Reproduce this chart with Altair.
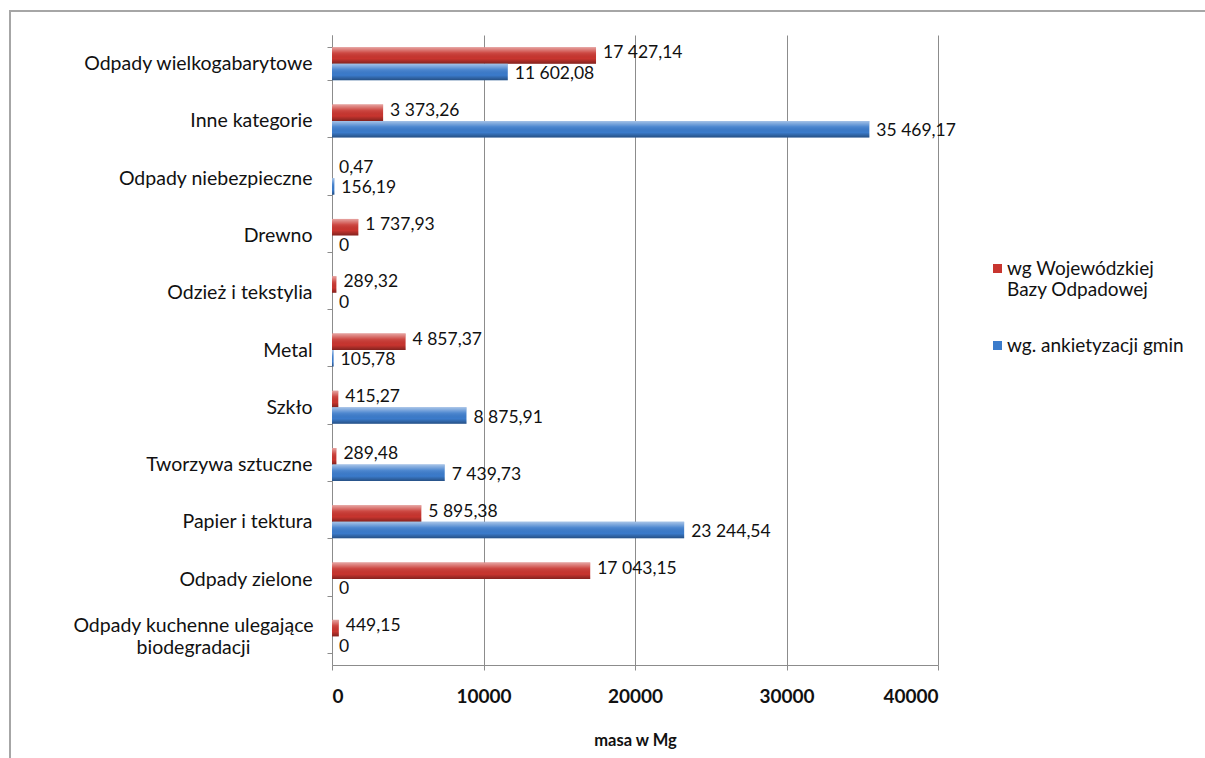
import altair as alt
import pandas as pd

# Waste categories, top to bottom
categories = [
    "Odpady wielkogabarytowe",
    "Inne kategorie",
    "Odpady niebezpieczne",
    "Drewno",
    "Odzież i tekstylia",
    "Metal",
    "Szkło",
    "Tworzywa sztuczne",
    "Papier i tektura",
    "Odpady zielone",
    "Odpady kuchenne ulegające biodegradacji",
]

series_names = ["wg Wojewódzkiej Bazy Odpadowej", "wg. ankietyzacji gmin"]

# Mass in Mg according to each source
wbo_values = [17427.14, 3373.26, 0.47, 1737.93, 289.32, 4857.37, 415.27, 289.48, 5895.38, 17043.15, 449.15]
gmin_values = [11602.08, 35469.17, 156.19, 0, 0, 105.78, 8875.91, 7439.73, 23244.54, 0, 0]

x_ticks = [0, 10000, 20000, 30000, 40000]
series_colors = ["#C8352F", "#3B7BCB"]


def pl_format(v):
    """Polish number format: space as thousands separator, comma as decimal mark."""
    if v == 0:
        return "0"
    return f"{v:,.2f}".replace(",", " ").replace(".", ",")


rows = []
for cat, a, b in zip(categories, wbo_values, gmin_values):
    rows.append({"kategoria": cat, "seria": series_names[0], "masa": a, "etykieta": pl_format(a)})
    rows.append({"kategoria": cat, "seria": series_names[1], "masa": b, "etykieta": pl_format(b)})
df = pd.DataFrame(rows)

FONT = "Lato"
long_cat = categories[-1]
is_long = f"datum.value == '{long_cat}'"

y_enc = alt.Y(
    "kategoria:N",
    sort=categories,
    title=None,
    scale=alt.Scale(paddingInner=0.424, paddingOuter=0.212),
    axis=alt.Axis(
        labelFont=FONT,
        labelFontSize=19.5,
        labelColor="#111111",
        labelLimit=400,
        tickBand="extent",
        tickSize=5,
        tickColor="#8c8c8c",
        domainColor="#8c8c8c",
        labelPadding={"condition": {"test": is_long, "value": 134}, "value": 15},
        labelAlign={"condition": {"test": is_long, "value": "center"}, "value": "right"},
        labelOffset={"condition": {"test": is_long, "value": -11}, "value": 0},
        labelExpr=f"{is_long} ? ['Odpady kuchenne ulegające', 'biodegradacji'] : datum.value",
        labelLineHeight=22,
    ),
)
x_enc = alt.X(
    "masa:Q",
    title="masa w Mg",
    scale=alt.Scale(domain=[0, 40000], nice=False),
    axis=alt.Axis(
        values=x_ticks,
        format="d",
        labelFont=FONT,
        labelFontSize=19,
        labelFontWeight="bold",
        labelColor="#111111",
        labelPadding=17,
        tickSize=5,
        tickColor="#8c8c8c",
        domainColor="#8c8c8c",
        gridColor="#8c8c8c",
        titleFont=FONT,
        titleFontSize=16.5,
        titleFontWeight="bold",
        titleColor="#111111",
        titlePadding=26,
    ),
)
yoff_enc = alt.YOffset("seria:N", sort=series_names)

base = alt.Chart(df)

bars = base.mark_bar().encode(
    x=x_enc,
    y=y_enc,
    yOffset=yoff_enc,
    color=alt.Color(
        "seria:N",
        sort=series_names,
        scale=alt.Scale(domain=series_names, range=series_colors),
        legend=alt.Legend(
            title=None,
            orient="none",
            legendX=656,
            legendY=224,
            symbolType="square",
            symbolSize=81,
            symbolStrokeWidth=0,
            labelFont=FONT,
            labelFontSize=19,
            labelColor="#111111",
            labelLimit=300,
            labelOffset=0,
            rowPadding=36,
            padding=0,
            labelExpr="datum.label == 'wg Wojewódzkiej Bazy Odpadowej' ? ['wg Wojewódzkiej', 'Bazy Odpadowej'] : datum.label",
        ),
    ),
)

# Glossy shading laid over the flat bars
shine = base.mark_bar(
    color=alt.Gradient(
        gradient="linear",
        x1=0, x2=0, y1=0, y2=1,
        stops=[
            alt.GradientStop(offset=0, color="rgba(255,255,255,0.55)"),
            alt.GradientStop(offset=0.35, color="rgba(255,255,255,0.1)"),
            alt.GradientStop(offset=0.7, color="rgba(0,0,0,0.0)"),
            alt.GradientStop(offset=1, color="rgba(0,0,0,0.35)"),
        ],
    )
).encode(x="masa:Q", y=alt.Y("kategoria:N", sort=categories), yOffset=yoff_enc)

# Value labels: the upper series nudged up, the lower one down, so that
# neighbouring labels of tiny bars stay apart
label_style = dict(align="left", baseline="middle", dx=7, font=FONT, fontSize=17.5, color="#111111")
label_enc = dict(
    x="masa:Q", y=alt.Y("kategoria:N", sort=categories), yOffset=yoff_enc, text="etykieta:N"
)
labels_top = base.transform_filter(
    alt.datum.seria == series_names[0]
).mark_text(dy=-2, **label_style).encode(**label_enc)
labels_bottom = base.transform_filter(
    alt.datum.seria == series_names[1]
).mark_text(dy=2, **label_style).encode(**label_enc)

frame = alt.Chart(pd.DataFrame({"k": [0]})).mark_rect(
    fill=None, stroke="#a6a6a6", strokeWidth=2
).encode(
    x=alt.value(-322), x2=alt.value(900), y=alt.value(-24), y2=alt.value(760)
)

chart = (
    alt.layer(frame, bars, shine, labels_top, labels_bottom)
    .properties(
        width=606,
        height=630,
        padding={"left": 332, "top": 35, "right": 267, "bottom": 93},
        autosize=alt.AutoSizeParams(type="none"),
        background="white",
    )
    .configure_view(stroke=None)
)

chart.save("out.html", embed_options={"renderer": "svg", "actions": False})
